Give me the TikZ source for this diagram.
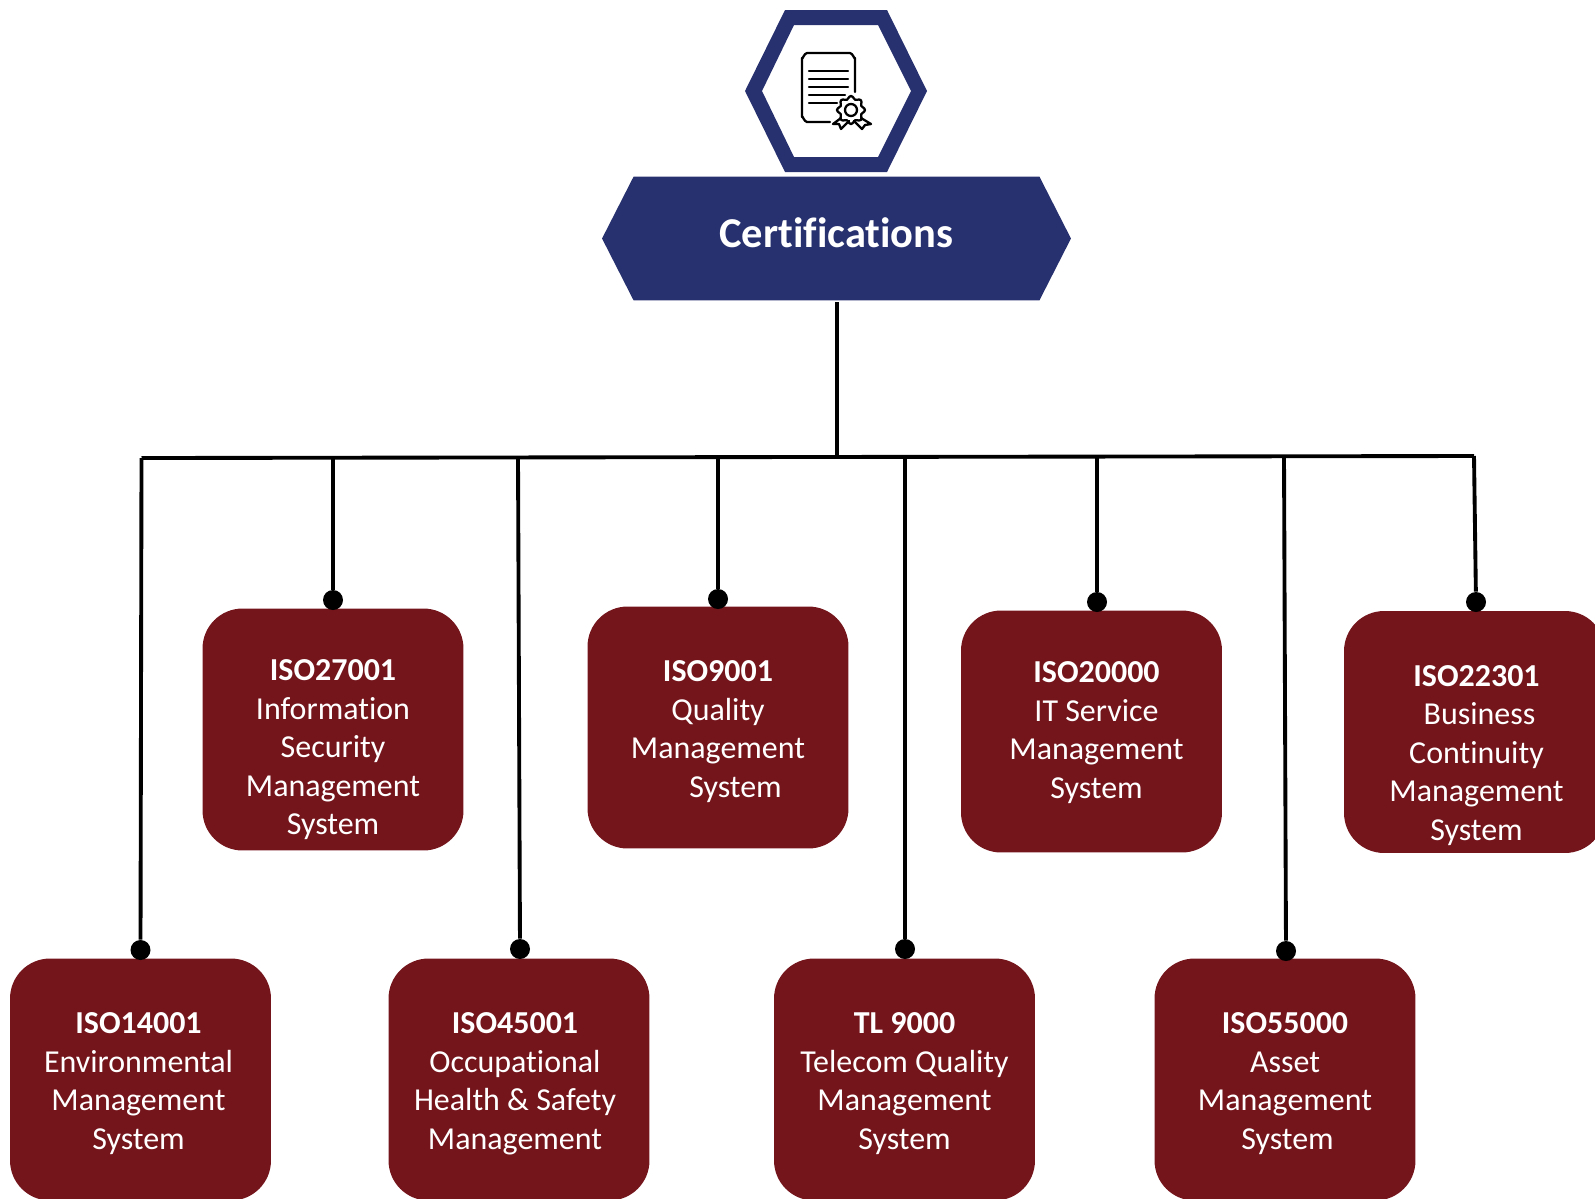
\documentclass[tikz,border=0pt]{standalone}
\usepackage{fontspec}
\setmainfont{Carlito}[Ligatures=NoCommon]
\definecolor{certnavy}{RGB}{39, 49, 111}
\definecolor{isored}{RGB}{116, 20, 27}
\usetikzlibrary{shapes.symbols, positioning, calc}
\newcommand{\isotext}[2][0cm]{\hspace*{#1}\begin{tabular}{@{}c@{}}\rule{0pt}{0.71cm}#2\end{tabular}}
\tikzset{
    isobox/.style={rectangle, rounded corners=0.8cm, fill=isored, text=white, inner sep=0pt,
                   minimum width=5.22cm, minimum height=4.84cm,
                   font=\fontsize{18.2}{21.9}\selectfont},
    certbanner/.style={signal, signal to=west and east, signal pointer angle=126, fill=certnavy, text=white,
                   minimum width=9.38cm, minimum height=2.48cm, inner sep=0pt,
                   font=\fontsize{24.2}{29}\selectfont\bfseries},
    busline/.style={line width=2.2pt, black},
    busdot/.style={circle, fill=black, inner sep=0pt, minimum size=0.4cm},
    iconline/.style={line width=1.3pt, black, line join=round, line cap=round},
}
\begin{document}
\begin{tikzpicture}[x=0.02cm, y=-0.02cm]
    \useasboundingbox (0,0) rectangle (1595,1198);
    % badge on top
    \fill[certnavy, even odd rule] (745,91) -- (785,10) -- (887,10) -- (927,91) -- (887,172) -- (785,172) -- cycle
        (762,91) -- (794,25) -- (878,25) -- (911,91) -- (878,157) -- (794,157) -- cycle;
    \draw[iconline] (830,122) -- (807,122) to[out=180, in=90] (802,117) -- (802,58) to[out=-90, in=180] (807,53)
        -- (850,53) to[out=0, in=-90] (855,58) -- (855,92);
    \draw[iconline] (809,71) -- (848,71);
    \draw[iconline] (809,79) -- (848,79);
    \draw[iconline] (809,87) -- (848,87);
    \draw[iconline] (809,95) -- (845,95);
    \draw[iconline] (809,103) -- (837,103);
    \draw[iconline] plot[domain=0:360, samples=49, smooth] ({851+(12.5+1.5*cos(8*\x))*cos(\x)}, {110+(12.5+1.5*cos(8*\x))*sin(\x)});
    \draw[iconline] (851,110) circle [radius=6];
    \draw[iconline] (841,118) -- (833,124) -- (839,124) -- (841,129) -- (849,121);
    \draw[iconline] (861,118) -- (871,124) -- (865,125) -- (862,129) -- (854,121);

    \node[certbanner] (cert) at (836.5,238.5) {\rule[-0.25cm]{0pt}{0.1cm}Certifications};

    \node[isobox] (iso14001) at (140.5,1079.5) {\isotext[-0.08cm]{\textbf{ISO14001}\\Environmental\\Management\\System}};
    \node[isobox] (iso27001) at (333,729.5) {\isotext{\rule{0pt}{1.36cm}\textbf{ISO27001}\\Information\\Security\\Management\\System}};
    \node[isobox] (iso45001) at (519,1079.5) {\isotext[-0.16cm]{\textbf{ISO45001}\\Occupational\\Health \& Safety\\Management}};
    \node[isobox] (iso9001) at (718,727.5) {\isotext{\textbf{ISO9001}\\Quality\\Management\\\hspace*{0.7cm}System}};
    \node[isobox] (tl9000) at (904.5,1079.5) {\isotext{\textbf{TL 9000}\\Telecom Quality\\Management\\System}};
    \node[isobox] (iso20000) at (1091.5,731.5) {\isotext[0.2cm]{\textbf{ISO20000}\\IT Service\\Management\\\rule[-0.35cm]{0pt}{0.1cm}System}};
    \node[isobox] (iso55000) at (1285,1079.5) {\isotext{\textbf{ISO55000}\\Asset\\Management\\\hspace*{0.1cm}System}};
    \node[isobox] (iso22301) at (1474.5,732) {\isotext[0.08cm]{\rule{0pt}{1.48cm}\textbf{ISO22301}\\\hspace*{0.12cm}Business\\Continuity\\Management\\System}};

    \node[busdot] (dot14001) at (140.5,950) {};
    \node[busdot] (dot27001) at (333,600) {};
    \node[busdot] (dot45001) at (520,949) {};
    \node[busdot] (dot9001) at (718,599) {};
    \node[busdot] (dottl) at (905,949) {};
    \node[busdot] (dot20000) at (1097,602) {};
    \node[busdot] (dot55000) at (1286,951) {};
    \node[busdot] (dot22301) at (1476,602) {};

    \coordinate (busl) at (141.5,458);
    \coordinate (busr) at (1474,456);
    \coordinate (hub) at (837,457);

    \draw[busline] (837,302) -- (hub);
    \draw[busline] (busl) -- (busr);
    \draw[busline] (busl) -- (dot14001);
    \draw[busline] (333,457) -- (dot27001);
    \draw[busline] (518,457) -- (dot45001);
    \draw[busline] (718,457) -- (dot9001);
    \draw[busline] (905,457) -- (dottl);
    \draw[busline] (1097,457) -- (dot20000);
    \draw[busline] (1284,457) -- (dot55000);
    \draw[busline] (busr) -- (dot22301);
\end{tikzpicture}
\end{document}
